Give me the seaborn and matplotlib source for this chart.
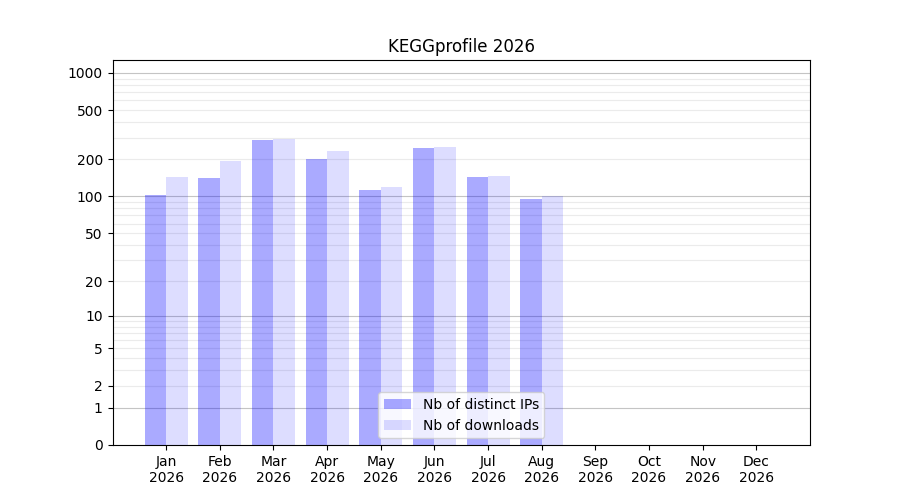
import seaborn as sns
import matplotlib.pyplot as plt
import numpy as np
import pandas as pd

# data
months = ['Jan', 'Feb', 'Mar', 'Apr', 'May', 'Jun', 'Jul', 'Aug', 'Sep', 'Oct', 'Nov', 'Dec']
year = '2026'
distinct_ips = [103, 141, 287, 201, 113, 247, 144, 95, 0, 0, 0, 0]
downloads = [144, 194, 293, 234, 119, 252, 147, 101, 0, 0, 0, 0]
series = ['Nb of distinct IPs', 'Nb of downloads']
alphas = [0.333, 0.133]

ytick_vals = [0, 1, 2, 5, 10, 20, 50, 100, 200, 500, 1000]
major_grid = [1, 10, 100, 1000]
minor_grid = [m * d for d in [1, 10, 100] for m in range(2, 10)]

df = pd.DataFrame({
    'month': months * 2,
    'value': distinct_ips + downloads,
    'series': [series[0]] * len(months) + [series[1]] * len(months),
})

fig, ax = plt.subplots(figsize=(9, 5), dpi=100)

sns.barplot(data=df, x='month', y='value', hue='series', order=months,
            hue_order=series, palette=['blue', 'blue'], saturation=1,
            linewidth=0, width=0.8, ax=ax)

# transparent bars, like the original
for cont, a in zip(ax.containers, alphas):
    for p in cont:
        p.set_alpha(a)

# log(1+x) scale
ax.set_yscale('function', functions=(lambda v: np.log10(1 + np.clip(v, 0, None)),
                                     lambda v: 10 ** v - 1))
ax.set_ylim(0, 1270)
ax.set_xlim(-1, 12)
ax.set_yticks(ytick_vals)
ax.set_yticklabels([str(v) for v in ytick_vals])
ax.yaxis.set_minor_locator(plt.NullLocator())

for v in minor_grid:
    ax.axhline(v, color='#ebebeb', lw=0.8, zorder=0.5)
for v in major_grid:
    ax.axhline(v, color='#c4c4c4', lw=0.8, zorder=0.6)

ax.set_xticks(range(len(months)))
ax.set_xticklabels([f'{m}\n{year}' for m in months])
ax.set_xlabel('')
ax.set_ylabel('')
ax.set_title('KEGGprofile ' + year)

handles, labels = ax.get_legend_handles_labels()
for h, a in zip(handles, alphas):
    h.set_alpha(a)
ax.legend(handles, labels, loc='lower center')

plt.savefig('out.png', dpi=100)
